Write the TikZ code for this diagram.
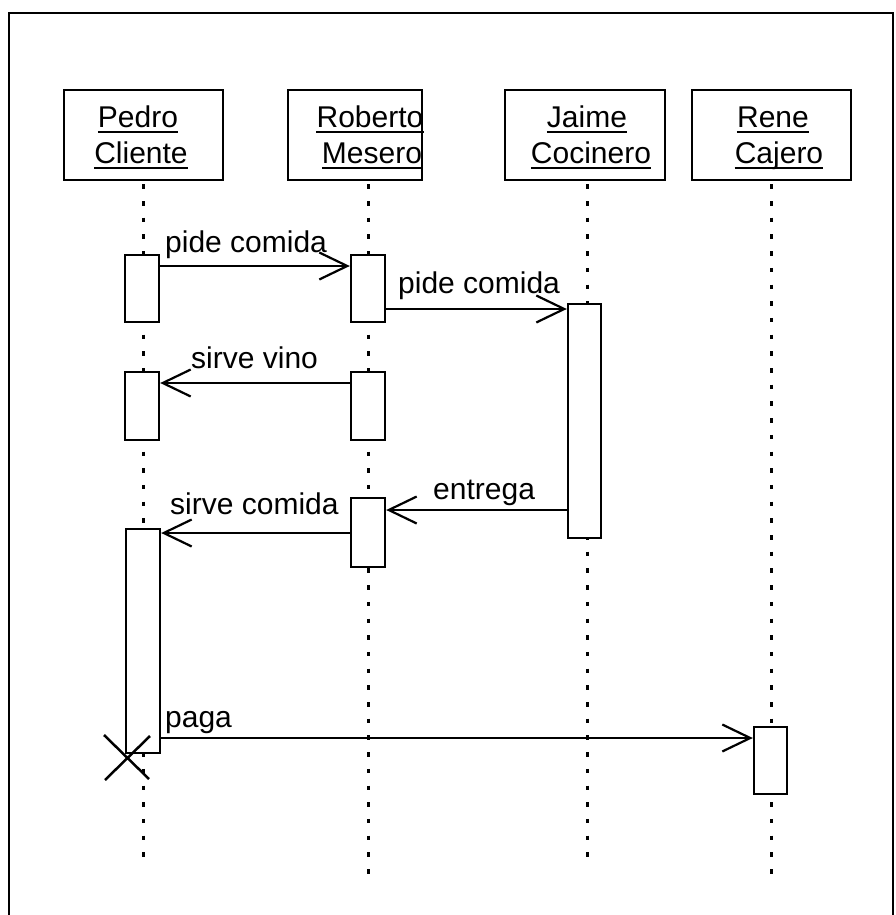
\documentclass[tikz,border=0pt]{standalone}
\usepackage{fontspec}
\setmainfont{Liberation Sans}
\usetikzlibrary{arrows.meta}
\begin{document}
\begin{tikzpicture}[x=1pt,y=-1pt,
  hdr/.style={draw, line width=2.6pt, fill=white, minimum height=90pt, inner sep=0pt},
  act/.style={draw, line width=2.4pt, fill=white, minimum width=34pt, inner sep=0pt},
  txt/.style={anchor=base, inner sep=0pt, font=\fontsize{30}{36}\selectfont},
  lbl/.style={anchor=base west, inner sep=0pt, font=\fontsize{30}{36}\selectfont},
  ul/.style={line width=2pt},
  life/.style={line width=3pt, dash pattern=on 4.5pt off 12.2pt, dash phase=-3pt},
  msg/.style={line width=2.2pt, -{Straight Barb[length=28pt, width=27pt, line width=2.2pt]}},
  frame/.style={line width=2.6pt}]
\useasboundingbox (0,0) rectangle (896,915);
% frame
\draw[frame] (9,915) -- (9,13) -- (893,13) -- (893,915);
% lifeline ends
\coordinate (pEnd) at (143,866);
\coordinate (rEnd) at (368,882);
\coordinate (jEnd) at (587,866);
\coordinate (nEnd) at (771,882);
% headers
\node[hdr, minimum width=159pt] (hp) at (143.5,135) {};
\node[hdr, minimum width=134pt] (hr) at (355,135) {};
\node[hdr, minimum width=160pt] (hj) at (585,135) {};
\node[hdr, minimum width=159pt] (hn) at (771.5,135) {};
% lifelines
\draw[life] (hp.south -| pEnd) -- (pEnd);
\draw[life] (hr.south -| rEnd) -- (rEnd);
\draw[life] (hj.south -| jEnd) -- (jEnd);
\draw[life] (hn.south -| nEnd) -- (nEnd);
% header texts
\node[txt] (tp1) at (138,128) {Pedro};
\node[txt] (tp2) at (141,164) {Cliente};
\node[txt] (tr1) at (370,128) {Roberto};
\node[txt] (tr2) at (372,164) {Mesero};
\node[txt] (tj1) at (587,128) {Jaime};
\node[txt] (tj2) at (591,164) {Cocinero};
\node[txt] (tn1) at (773,128) {Rene};
\node[txt] (tn2) at (779,164) {Cajero};
\foreach \t in {tp1,tp2,tr1,tr2,tj1,tj2,tn1,tn2}
  \draw[ul] ([yshift=-4pt]\t.base west) -- ([yshift=-4pt]\t.base east);
% activation boxes
\node[act, minimum height=67pt] (pa1) at (142,288.5) {};
\node[act, minimum height=67pt] (ra1) at (368,288.5) {};
\node[act, minimum width=33pt, minimum height=234pt] (ja1) at (584.5,421) {};
\node[act, minimum height=68pt] (pa2) at (142,406) {};
\node[act, minimum height=68pt] (ra2) at (368,406) {};
\node[act, minimum height=69pt] (ra3) at (368,532.5) {};
\node[act, minimum height=224pt] (pa3) at (143,641) {};
\node[act, minimum width=33pt, minimum height=67pt] (rc1) at (770.5,760.5) {};
% messages
\draw[msg] (pa1.east |- 0,266) -- (ra1.west |- 0,266);
\node[lbl] (l1) at (165,252) {pide comida};
\draw[msg] (ra1.east |- 0,309) -- (ja1.west |- 0,309);
\node[lbl] (l2) at (398,293) {pide comida};
\draw[msg] (ra2.west |- 0,383) -- (pa2.east |- 0,383);
\node[lbl] (l3) at (191,368) {sirve vino};
\draw[msg] (ja1.west |- 0,510) -- (ra3.east |- 0,510);
\node[lbl] (l4) at (433,499) {entrega};
\draw[msg] (ra3.west |- 0,533) -- (pa3.east |- 0,533);
\node[lbl] (l5) at (170,514) {sirve comida};
\draw[msg] (pa3.east |- 0,738) -- (rc1.west |- 0,738);
\node[lbl] (l6) at (165,727) {paga};
% destruction mark
\draw[line width=2.5pt] (104,735) -- (149,779);
\draw[line width=2.5pt] (150,736) -- (105,780);
\end{tikzpicture}
\end{document}
